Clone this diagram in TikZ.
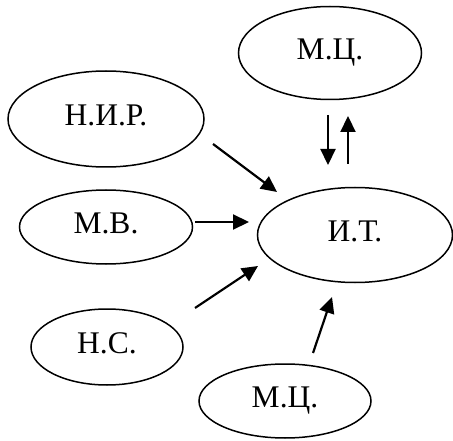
\documentclass[tikz,border=0pt]{standalone}
\usepackage{fontspec}
\setmainfont{Liberation Serif}
\usetikzlibrary{shapes.geometric,arrows.meta}
\begin{document}
\begin{tikzpicture}[x=1pt,y=-1pt,
  oval/.style={draw,ellipse,line width=1.5pt,inner sep=0pt,
    text height=21pt,text depth=8pt,
    font=\fontsize{31.5}{36}\selectfont},
  arr/.style={line width=2.2pt,-{Triangle[length=16pt,width=15pt]}}]
\useasboundingbox (0,0) rectangle (453,441);
% states
\node[oval,minimum width=183pt,minimum height=93pt] (mctop) at (330,53) {М.Ц.};
\node[oval,minimum width=196pt,minimum height=96pt] (nir) at (106,119) {Н.И.Р.};
\node[oval,minimum width=173pt,minimum height=74pt] (mv) at (106,227) {М.В.};
\node[oval,minimum width=195pt,minimum height=95pt] (it) at (355,235) {И.Т.};
\node[oval,minimum width=152pt,minimum height=76pt] (ns) at (107,347) {Н.С.};
\node[oval,minimum width=172pt,minimum height=74pt] (mcbot) at (285,401) {М.Ц.};
% arrow end points
\coordinate (nirA) at (213,144); \coordinate (nirB) at (277,192);
\coordinate (mvA) at (195,222);  \coordinate (mvB) at (249,222);
\coordinate (nsA) at (195,308);  \coordinate (nsB) at (258,266);
\coordinate (mcbA) at (313,353); \coordinate (mcbB) at (332,297);
\coordinate (dnA) at (328,115);  \coordinate (dnB) at (328,165);
\coordinate (upA) at (348,164);  \coordinate (upB) at (348,116);
% connectors
\draw[arr] (nirA) -- (nirB);
\draw[arr] (mvA) -- (mvB);
\draw[arr] (nsA) -- (nsB);
\draw[arr] (mcbA) -- (mcbB);
\draw[arr] (dnA) -- (dnB);
\draw[arr] (upA) -- (upB);
\end{tikzpicture}
\end{document}
